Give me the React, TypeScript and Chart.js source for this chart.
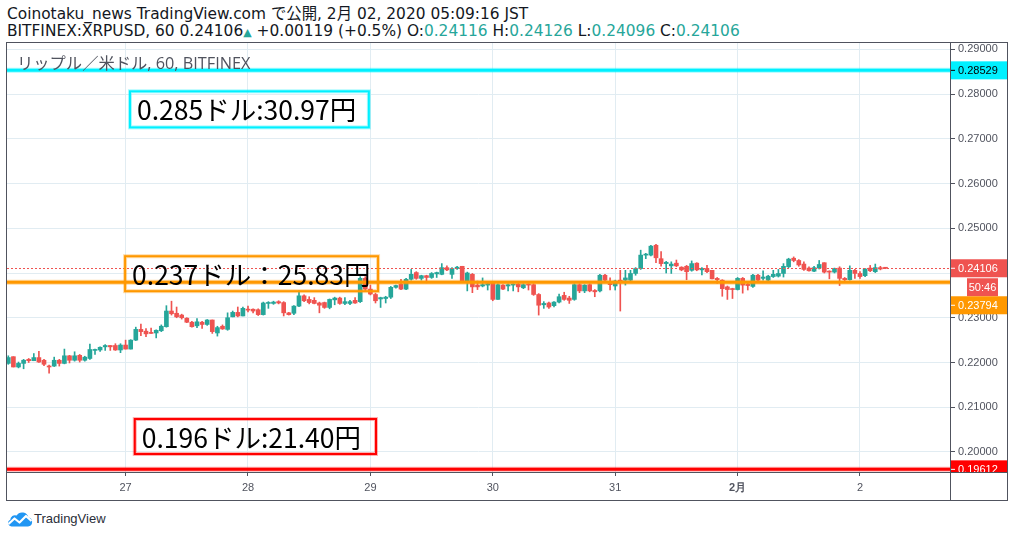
import React, { useEffect, useRef } from 'react';
import { Chart, registerables } from 'chart.js';

Chart.register(...registerables);

// ---- data (hourly candles, BITFINEX:XRPUSD, Jan 26 01:00 – Feb 2 05:00 JST) ----
const opens = [
  0.2198, 0.2213, 0.2190, 0.2198, 0.2207, 0.2204, 0.2211, 0.2205, 0.2192, 0.2192,
  0.2205, 0.2198, 0.2215, 0.2205, 0.2216, 0.2205, 0.2209, 0.2227, 0.2228, 0.2235,
  0.2238, 0.2238, 0.2228, 0.2239, 0.2230, 0.2250, 0.2274, 0.2270, 0.2267, 0.2266,
  0.2271, 0.2280, 0.2315, 0.2310, 0.2306, 0.2299, 0.2290, 0.2282, 0.2290, 0.2285,
  0.2295, 0.2266, 0.2281, 0.2274, 0.2302, 0.2312, 0.2304, 0.2319, 0.2319, 0.2318,
  0.2307, 0.2332, 0.2332, 0.2336, 0.2334, 0.2311, 0.2310, 0.2326, 0.2349, 0.2341,
  0.2339, 0.2333, 0.2334, 0.2323, 0.2340, 0.2344, 0.2332, 0.2332, 0.2339, 0.2336,
  0.2388, 0.2364, 0.2352, 0.2342, 0.2343, 0.2346, 0.2368, 0.2375, 0.2364, 0.2386,
  0.2401, 0.2388, 0.2394, 0.2390, 0.2398, 0.2397, 0.2412, 0.2397, 0.2410, 0.2415,
  0.2382, 0.2397, 0.2373, 0.2371, 0.2373, 0.2380, 0.2341, 0.2373, 0.2371, 0.2373,
  0.2375, 0.2367, 0.2374, 0.2374, 0.2352, 0.2329, 0.2333, 0.2327, 0.2335, 0.2350,
  0.2344, 0.2341, 0.2374, 0.2360, 0.2374, 0.2361, 0.2360, 0.2395, 0.2376, 0.2371,
  0.2384, 0.2384, 0.2384, 0.2399, 0.2410, 0.2440, 0.2440, 0.2462, 0.2432, 0.2421,
  0.2416, 0.2422, 0.2413, 0.2415, 0.2406, 0.2422, 0.2407, 0.2410, 0.2406, 0.2388,
  0.2384, 0.2369, 0.2365, 0.2363, 0.2388, 0.2375, 0.2370, 0.2395, 0.2388, 0.2384,
  0.2392, 0.2393, 0.2399, 0.2414, 0.2433, 0.2428, 0.2420, 0.2411, 0.2404, 0.2411,
  0.2423, 0.2404, 0.2402, 0.2411, 0.2388, 0.2385, 0.2406, 0.2399, 0.2394, 0.2411,
  0.2403, 0.2412, 0.24116,
];
const highs = [
  0.2215, 0.2213, 0.2201, 0.2207, 0.2209, 0.2220, 0.2225, 0.2207, 0.2194, 0.2212,
  0.2207, 0.2230, 0.2216, 0.2224, 0.2218, 0.2214, 0.2241, 0.2230, 0.2235, 0.2240,
  0.2238, 0.2242, 0.2242, 0.2250, 0.2251, 0.2279, 0.2286, 0.2276, 0.2277, 0.2273,
  0.2284, 0.2327, 0.2337, 0.2324, 0.2308, 0.2300, 0.2292, 0.2298, 0.2292, 0.2296,
  0.2295, 0.2281, 0.2284, 0.2311, 0.2315, 0.2324, 0.2324, 0.2326, 0.2320, 0.2320,
  0.2335, 0.2336, 0.2337, 0.2338, 0.2336, 0.2312, 0.2327, 0.2360, 0.2351, 0.2347,
  0.2345, 0.2335, 0.2335, 0.2342, 0.2346, 0.2346, 0.2345, 0.2339, 0.2345, 0.2392,
  0.2392, 0.2373, 0.2355, 0.2346, 0.2348, 0.2370, 0.2373, 0.2386, 0.2388, 0.2408,
  0.2403, 0.2395, 0.2395, 0.2401, 0.2402, 0.2421, 0.2416, 0.2412, 0.2415, 0.2415,
  0.2402, 0.2399, 0.2382, 0.2389, 0.2380, 0.2381, 0.2376, 0.2374, 0.2376, 0.2376,
  0.2378, 0.2376, 0.2376, 0.2376, 0.2354, 0.2336, 0.2335, 0.2336, 0.2353, 0.2357,
  0.2348, 0.2376, 0.2376, 0.2374, 0.2376, 0.2363, 0.2397, 0.2397, 0.2389, 0.2384,
  0.2406, 0.2406, 0.2406, 0.2412, 0.2451, 0.2444, 0.2462, 0.2464, 0.2448, 0.2426,
  0.2425, 0.2429, 0.2414, 0.2417, 0.2427, 0.2423, 0.2412, 0.2417, 0.2406, 0.2390,
  0.2385, 0.2371, 0.2366, 0.2390, 0.2390, 0.2377, 0.2397, 0.2397, 0.2405, 0.2395,
  0.2406, 0.2408, 0.2421, 0.2433, 0.2436, 0.2430, 0.2425, 0.2414, 0.2415, 0.2428,
  0.2423, 0.2405, 0.2411, 0.2414, 0.2390, 0.2416, 0.2408, 0.2403, 0.2410, 0.2417,
  0.2420, 0.2415, 0.24126,
];
const lows = [
  0.2196, 0.2190, 0.2188, 0.2186, 0.2200, 0.2204, 0.2200, 0.2193, 0.2176, 0.2191,
  0.2192, 0.2197, 0.2199, 0.2203, 0.2201, 0.2203, 0.2207, 0.2218, 0.2225, 0.2227,
  0.2227, 0.2227, 0.2222, 0.2230, 0.2230, 0.2249, 0.2260, 0.2258, 0.2265, 0.2255,
  0.2269, 0.2279, 0.2306, 0.2300, 0.2297, 0.2289, 0.2279, 0.2278, 0.2276, 0.2283,
  0.2265, 0.2259, 0.2274, 0.2272, 0.2302, 0.2302, 0.2304, 0.2313, 0.2311, 0.2305,
  0.2306, 0.2321, 0.2330, 0.2331, 0.2304, 0.2306, 0.2307, 0.2325, 0.2336, 0.2331,
  0.2331, 0.2311, 0.2321, 0.2320, 0.2329, 0.2330, 0.2329, 0.2329, 0.2332, 0.2334,
  0.2361, 0.2351, 0.2333, 0.2323, 0.2333, 0.2343, 0.2366, 0.2363, 0.2363, 0.2384,
  0.2386, 0.2384, 0.2378, 0.2388, 0.2390, 0.2396, 0.2405, 0.2388, 0.2408, 0.2382,
  0.2360, 0.2356, 0.2363, 0.2369, 0.2362, 0.2338, 0.2341, 0.2363, 0.2360, 0.2360,
  0.2358, 0.2365, 0.2362, 0.2350, 0.2306, 0.2321, 0.2321, 0.2324, 0.2333, 0.2339,
  0.2332, 0.2339, 0.2356, 0.2356, 0.2358, 0.2347, 0.2358, 0.2380, 0.2362, 0.2362,
  0.2315, 0.2373, 0.2382, 0.2395, 0.2408, 0.2432, 0.2438, 0.2423, 0.2415, 0.2400,
  0.2399, 0.2414, 0.2405, 0.2385, 0.2404, 0.2405, 0.2396, 0.2401, 0.2387, 0.2377,
  0.2348, 0.2341, 0.2343, 0.2362, 0.2355, 0.2362, 0.2368, 0.2382, 0.2384, 0.2382,
  0.2390, 0.2391, 0.2391, 0.2412, 0.2425, 0.2415, 0.2406, 0.2404, 0.2403, 0.2409,
  0.2400, 0.2387, 0.2400, 0.2372, 0.2383, 0.2384, 0.2388, 0.2388, 0.2392, 0.2403,
  0.2401, 0.2407, 0.24096,
];
const closes = [
  0.2211, 0.2190, 0.2198, 0.2205, 0.2204, 0.2211, 0.2201, 0.2196, 0.2190, 0.2205,
  0.2198, 0.2215, 0.2205, 0.2215, 0.2205, 0.2212, 0.2229, 0.2229, 0.2234, 0.2238,
  0.2235, 0.2228, 0.2239, 0.2230, 0.2250, 0.2274, 0.2269, 0.2264, 0.2265, 0.2272,
  0.2281, 0.2315, 0.2309, 0.2302, 0.2300, 0.2290, 0.2280, 0.2291, 0.2285, 0.2295,
  0.2269, 0.2278, 0.2275, 0.2300, 0.2312, 0.2304, 0.2321, 0.2317, 0.2315, 0.2307,
  0.2333, 0.2334, 0.2335, 0.2333, 0.2311, 0.2307, 0.2326, 0.2349, 0.2338, 0.2334,
  0.2332, 0.2328, 0.2323, 0.2341, 0.2344, 0.2332, 0.2336, 0.2336, 0.2333, 0.2388,
  0.2364, 0.2353, 0.2338, 0.2345, 0.2346, 0.2368, 0.2372, 0.2364, 0.2386, 0.2397,
  0.2388, 0.2394, 0.2390, 0.2399, 0.2401, 0.2412, 0.2407, 0.2410, 0.2413, 0.2382,
  0.2400, 0.2369, 0.2369, 0.2374, 0.2376, 0.2341, 0.2374, 0.2364, 0.2374, 0.2375,
  0.2369, 0.2374, 0.2373, 0.2352, 0.2328, 0.2332, 0.2324, 0.2335, 0.2347, 0.2341,
  0.2339, 0.2374, 0.2360, 0.2373, 0.2360, 0.2358, 0.2395, 0.2384, 0.2374, 0.2382,
  0.2380, 0.2389, 0.2399, 0.2410, 0.2440, 0.2442, 0.2460, 0.2434, 0.2421, 0.2424,
  0.2420, 0.2416, 0.2407, 0.2403, 0.2421, 0.2407, 0.2410, 0.2403, 0.2387, 0.2385,
  0.2365, 0.2363, 0.2363, 0.2388, 0.2373, 0.2372, 0.2395, 0.2384, 0.2391, 0.2393,
  0.2397, 0.2399, 0.2415, 0.2431, 0.2428, 0.2418, 0.2408, 0.2405, 0.2412, 0.2419,
  0.2402, 0.2402, 0.2410, 0.2388, 0.2385, 0.2406, 0.2399, 0.2392, 0.2409, 0.2405,
  0.2412, 0.2409, 0.24106,
];

const dayTickIndexes = [23, 47, 71, 95, 119, 143, 167];
const dayTickLabels = ['27', '28', '29', '30', '31', '2月', '2'];
const priceTicks = [0.2, 0.21, 0.22, 0.23, 0.24, 0.25, 0.26, 0.27, 0.28, 0.29];

const levelPrices = [0.28529, 0.23794, 0.19612];
const noteTexts = ['0.285ドル:30.97円', '0.237ドル：25.83円', '0.196ドル:21.40円'];
const noteStartIndex = [23.86, 22.9, 24.8];
const noteEndIndex = [70.7, 72.5, 72.1];
const noteTopPrice = [0.2806, 0.24375, 0.20737];
const noteBottomPrice = [0.27254, 0.23594, 0.19955];

const headerLine1 = 'Coinotaku_news TradingView.com で公開, 2月 02, 2020 05:09:16 JST';
const symbolText = 'BITFINEX:XRPUSD, 60';
const changeText = '+0.00119 (+0.5%)';
const seriesTitle = 'リップル／米ドル, 60, BITFINEX';
const countdownText = '50:46';

// ---- styles ----
const UP = '#26a69a';
const DOWN = '#ef5350';
const GRID = '#e1ecf2';
const AXIS = '#50535e';
const TEXT = '#131722';
const AXIS_FONT = '"Liberation Sans", Arial, sans-serif';
const levelStyles = [
  { core: '#00f0ff', halo: 'rgba(0,240,255,0.35)', label: '#00f0ff', labelText: '#000000' },
  { core: '#ff9800', halo: 'rgba(255,152,0,0.35)', label: '#ff9800', labelText: '#ffffff' },
  { core: '#ff0000', halo: 'rgba(255,0,0,0.3)', label: '#ff0000', labelText: '#ffffff' },
];

const overlayPlugin = {
  id: 'overlay',
  afterDatasetsDraw(chart: any) {
    const { ctx, chartArea: a } = chart;
    const xs = chart.scales.x;
    const ys = chart.scales.y;
    ctx.save();
    ctx.beginPath();
    ctx.rect(a.left, a.top, a.right - a.left, a.bottom - a.top);
    ctx.clip();

    const last = closes[closes.length - 1];
    const yc = Math.round(ys.getPixelForValue(last)) + 0.5;
    ctx.setLineDash([2, 2]);
    ctx.strokeStyle = DOWN;
    ctx.lineWidth = 1;
    ctx.beginPath();
    ctx.moveTo(a.left, yc);
    ctx.lineTo(a.right, yc);
    ctx.stroke();
    ctx.setLineDash([]);

    levelPrices.forEach((p, i) => {
      const st = levelStyles[i];
      const yy = ys.getPixelForValue(p);
      [[5, st.halo], [3, st.core]].forEach(([w, c]: any) => {
        ctx.strokeStyle = c;
        ctx.lineWidth = w;
        ctx.beginPath();
        ctx.moveTo(a.left, yy);
        ctx.lineTo(a.right, yy);
        ctx.stroke();
      });
    });

    noteTexts.forEach((t, i) => {
      const st = levelStyles[i];
      const x0 = xs.getPixelForValue(noteStartIndex[i]);
      const x1 = xs.getPixelForValue(noteEndIndex[i]);
      const y0 = ys.getPixelForValue(noteTopPrice[i]);
      const y1 = ys.getPixelForValue(noteBottomPrice[i]);
      ctx.strokeStyle = st.halo;
      ctx.lineWidth = 4;
      ctx.strokeRect(x0, y0, x1 - x0, y1 - y0);
      ctx.strokeStyle = st.core;
      ctx.lineWidth = 2;
      ctx.strokeRect(x0, y0, x1 - x0, y1 - y0);
      ctx.fillStyle = '#000';
      ctx.font = '26.5px "Noto Sans CJK JP", sans-serif';
      ctx.textBaseline = 'middle';
      ctx.textAlign = 'left';
      ctx.fillText(t, x0 + 7, (y0 + y1) / 2 + 1);
    });

    ctx.font = '16.3px "Open Sans", "Noto Sans CJK JP", sans-serif';
    ctx.fillStyle = AXIS;
    ctx.textBaseline = 'alphabetic';
    ctx.fillText(seriesTitle, a.left + 10, a.top + 25.5);
    ctx.restore();
  },
  afterDraw(chart: any) {
    const { ctx, chartArea: a, width, height } = chart;
    const ys = chart.scales.y;
    const left = ys.left;
    const right = width - 1;
    const h = 18;
    ctx.save();
    ctx.beginPath();
    ctx.rect(left, a.top, right - left, a.bottom - a.top);
    ctx.clip();
    ctx.font = '11px ' + AXIS_FONT;
    ctx.textBaseline = 'middle';

    const label = (text: string, top: number, bg: string, fg: string) => {
      ctx.fillStyle = bg;
      ctx.fillRect(left, top, right - left, h);
      ctx.fillStyle = fg;
      ctx.fillRect(left + 1, top + h / 2 - 0.5, 4, 1);
      ctx.textAlign = 'left';
      ctx.fillText(text, left + 8, top + h / 2 + 0.5);
    };

    const curTop = ys.getPixelForValue(closes[closes.length - 1]) - h / 2;
    label(levelPrices[0].toFixed(5), ys.getPixelForValue(levelPrices[0]) - h / 2, levelStyles[0].label, levelStyles[0].labelText);
    label(closes[closes.length - 1].toFixed(5), curTop, DOWN, '#ffffff');
    const cdTop = curTop + h + 1;
    ctx.fillStyle = DOWN;
    ctx.fillRect(left + 17, cdTop, 31, h);
    ctx.fillStyle = '#ffffff';
    ctx.textAlign = 'center';
    ctx.fillText(countdownText, left + 32.5, cdTop + h / 2 + 0.5);
    label(levelPrices[1].toFixed(5), cdTop + h, levelStyles[1].label, levelStyles[1].labelText);
    label(levelPrices[2].toFixed(5), ys.getPixelForValue(levelPrices[2]) - h / 2, levelStyles[2].label, levelStyles[2].labelText);
    ctx.restore();

    // frame
    ctx.save();
    ctx.strokeStyle = AXIS;
    ctx.lineWidth = 1;
    ctx.strokeRect(0.5, 0.5, width - 1, height - 1);
    ctx.beginPath();
    ctx.moveTo(Math.round(a.right) + 0.5, 0);
    ctx.lineTo(Math.round(a.right) + 0.5, height);
    ctx.moveTo(0, Math.round(a.bottom) + 0.5);
    ctx.lineTo(width, Math.round(a.bottom) + 0.5);
    ctx.stroke();
    ctx.restore();
  },
};

export default function App() {
  const canvasRef = useRef<HTMLCanvasElement | null>(null);

  useEffect(() => {
    if (!canvasRef.current) return;
    const idx = opens.map((_, i) => i);
    const colors = idx.map((i) => (closes[i] >= opens[i] ? UP : DOWN));
    const chart = new Chart(canvasRef.current, {
      type: 'bar',
      data: {
        datasets: [
          {
            label: 'body',
            data: idx.map((i) => ({ x: i, y: [opens[i], closes[i]] })) as any,
            backgroundColor: colors,
            borderWidth: 0,
            grouped: false,
            barPercentage: 1,
            categoryPercentage: 1,
            maxBarThickness: 4,
            minBarLength: 1,
          } as any,
          {
            label: 'wick',
            data: idx.map((i) => ({ x: i, y: [lows[i], highs[i]] })) as any,
            backgroundColor: colors,
            borderWidth: 0,
            grouped: false,
            barPercentage: 1,
            categoryPercentage: 1,
            maxBarThickness: 1,
            minBarLength: 1,
          } as any,
        ],
      },
      options: {
        animation: false,
        responsive: true,
        maintainAspectRatio: false,
        events: [],
        layout: { padding: { left: 1, top: 1, right: 1, bottom: 1 } },
        plugins: { legend: { display: false }, tooltip: { enabled: false }, title: { display: false } },
        scales: {
          x: {
            type: 'linear',
            min: -0.255,
            max: 184.65,
            offset: false,
            afterBuildTicks: (s: any) => {
              s.ticks = dayTickIndexes.map((v) => ({ value: v }));
            },
            afterFit: (s: any) => {
              s.height = 28;
              s.paddingLeft = 0;
              s.paddingRight = 0;
            },
            grid: { color: GRID, offset: false, tickLength: 4, tickColor: AXIS, drawTicks: true },
            border: { display: false },
            ticks: {
              autoSkip: false,
              maxRotation: 0,
              padding: 5,
              color: AXIS,
              font: (c: any) => ({
                family: AXIS_FONT,
                size: 11,
                weight: c.tick && c.tick.value === 143 ? 'bold' : 'normal',
              }),
              callback: (v: any) => {
                const k = dayTickIndexes.indexOf(Number(v));
                return k >= 0 ? dayTickLabels[k] : '';
              },
            },
          } as any,
          y: {
            type: 'linear',
            position: 'right',
            min: 0.19553,
            max: 0.2914,
            beginAtZero: false,
            afterBuildTicks: (s: any) => {
              s.ticks = priceTicks.map((v) => ({ value: v }));
            },
            afterFit: (s: any) => {
              s.width = 57;
              s.paddingTop = 0;
              s.paddingBottom = 0;
            },
            grid: { color: GRID, tickLength: 5, tickColor: AXIS },
            border: { display: false },
            ticks: {
              padding: 3,
              color: AXIS,
              font: { family: AXIS_FONT, size: 11 },
              callback: (v: any) => Number(v).toFixed(5),
            },
          } as any,
        },
      },
      plugins: [overlayPlugin],
    });
    return () => chart.destroy();
  }, []);

  const last = opens.length - 1;
  const headerFont: React.CSSProperties = {
    position: 'absolute',
    left: 7,
    whiteSpace: 'nowrap',
    fontFamily: '"DejaVu Sans", "Noto Sans CJK JP", sans-serif',
    fontSize: 15.4,
    lineHeight: '16px',
    color: TEXT,
  };
  const teal: React.CSSProperties = { color: UP };

  return (
    <div style={{ position: 'absolute', left: 0, top: 0, width: 1014, height: 537, background: '#ffffff', overflow: 'hidden' }}>
      <div style={{ ...headerFont, top: 6 }}>{headerLine1}</div>
      <div style={{ ...headerFont, top: 23 }}>
        {symbolText} {closes[last].toFixed(5)}
        <span style={{ color: UP, fontSize: 11 }}>▲</span> {changeText} O:<span style={teal}>{opens[last].toFixed(5)}</span> H:
        <span style={teal}>{highs[last].toFixed(5)}</span> L:<span style={teal}>{lows[last].toFixed(5)}</span> C:
        <span style={teal}>{closes[last].toFixed(5)}</span>
      </div>
      <div style={{ position: 'absolute', left: 6, top: 42, width: 1002, height: 459 }}>
        <canvas ref={canvasRef} />
      </div>
      <svg style={{ position: 'absolute', left: 7, top: 510 }} width="26" height="17" viewBox="0 0 26 17">
        <path d="M5 16.5 H21 A4.5 4.5 0 0 0 21.5 7.6 A6.5 6.5 0 0 0 9.6 5.5 A4.6 4.6 0 0 0 3.3 9.8 A3.5 3.5 0 0 0 5 16.5 Z" fill="#2196f3" />
        <polyline points="1.5,14 7.5,8.5 12.5,12.5 19,6 24.5,11" fill="none" stroke="#ffffff" strokeWidth="2.2" strokeLinejoin="round" />
      </svg>
      <div style={{ position: 'absolute', left: 34, top: 511, fontFamily: AXIS_FONT, fontSize: 13, lineHeight: '16px', color: '#2a2e39', whiteSpace: 'nowrap' }}>
        TradingView
      </div>
    </div>
  );
}
